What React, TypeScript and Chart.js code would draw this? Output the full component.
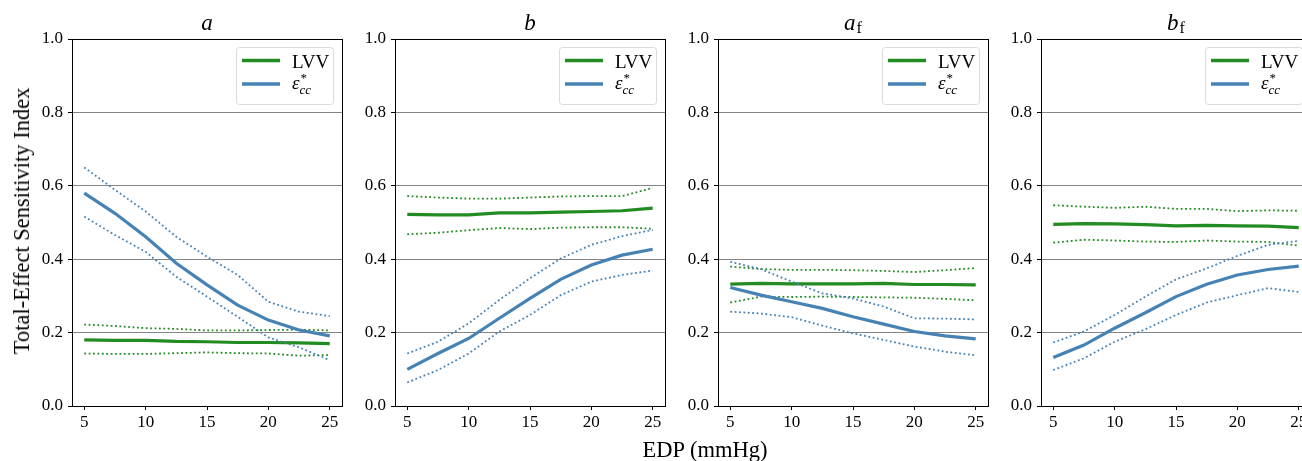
import React, { useEffect, useRef } from "react";
import { Chart, registerables } from "chart.js";

Chart.register(...registerables);

// End-diastolic pressure sample points (mmHg)
const edp = [5, 7.5, 10, 12.5, 15, 17.5, 20, 22.5, 25];
const xTickValues = [5, 10, 15, 20, 25];
const yTickValues = [0, 0.2, 0.4, 0.6, 0.8, 1.0];
const seriesNames = ["LVV", "ε*cc"];
const seriesColors = ["#228B22", "#4682B4"];

// Panel a
const aLvv = [0.18, 0.179, 0.179, 0.176, 0.175, 0.173, 0.173, 0.172, 0.17];
const aLvvHi = [0.222, 0.218, 0.212, 0.21, 0.206, 0.206, 0.207, 0.208, 0.206];
const aLvvLo = [0.143, 0.142, 0.142, 0.144, 0.146, 0.144, 0.143, 0.137, 0.139];
const aEps = [0.58, 0.525, 0.461, 0.389, 0.33, 0.275, 0.234, 0.207, 0.191];
const aEpsHi = [0.65, 0.589, 0.53, 0.461, 0.407, 0.357, 0.284, 0.257, 0.245];
const aEpsLo = [0.516, 0.466, 0.42, 0.352, 0.298, 0.243, 0.187, 0.16, 0.125];

// Panel b
const bLvv = [0.522, 0.521, 0.521, 0.526, 0.526, 0.528, 0.53, 0.532, 0.539];
const bLvvHi = [0.572, 0.568, 0.565, 0.565, 0.568, 0.571, 0.572, 0.572, 0.594];
const bLvvLo = [0.468, 0.472, 0.479, 0.485, 0.482, 0.486, 0.487, 0.487, 0.483];
const bEps = [0.1, 0.143, 0.184, 0.239, 0.293, 0.345, 0.384, 0.411, 0.427];
const bEpsHi = [0.143, 0.175, 0.225, 0.289, 0.348, 0.402, 0.439, 0.463, 0.48];
const bEpsLo = [0.064, 0.098, 0.143, 0.203, 0.248, 0.302, 0.339, 0.357, 0.369];

// Panel a_f
const afLvv = [0.332, 0.334, 0.333, 0.333, 0.333, 0.334, 0.331, 0.331, 0.33];
const afLvvHi = [0.38, 0.373, 0.371, 0.371, 0.37, 0.368, 0.365, 0.37, 0.376];
const afLvvLo = [0.282, 0.298, 0.297, 0.298, 0.297, 0.296, 0.295, 0.292, 0.288];
const afEps = [0.323, 0.302, 0.284, 0.266, 0.243, 0.223, 0.203, 0.191, 0.183];
const afEpsHi = [0.393, 0.373, 0.339, 0.307, 0.293, 0.271, 0.239, 0.238, 0.236];
const afEpsLo = [0.257, 0.252, 0.242, 0.219, 0.198, 0.18, 0.162, 0.148, 0.138];

// Panel b_f
const bfLvv = [0.495, 0.497, 0.496, 0.494, 0.491, 0.492, 0.491, 0.49, 0.486];
const bfLvvHi = [0.547, 0.543, 0.54, 0.543, 0.537, 0.537, 0.531, 0.533, 0.532];
const bfLvvLo = [0.445, 0.453, 0.451, 0.448, 0.447, 0.451, 0.448, 0.447, 0.437];
const bfEps = [0.132, 0.166, 0.212, 0.254, 0.298, 0.332, 0.357, 0.372, 0.381];
const bfEpsHi = [0.173, 0.203, 0.248, 0.298, 0.345, 0.375, 0.409, 0.439, 0.45];
const bfEpsLo = [0.098, 0.13, 0.175, 0.209, 0.248, 0.282, 0.302, 0.321, 0.311];

const panels = [
  { title: "a", sub: "", lvv: [aLvv, aLvvHi, aLvvLo], eps: [aEps, aEpsHi, aEpsLo] },
  { title: "b", sub: "", lvv: [bLvv, bLvvHi, bLvvLo], eps: [bEps, bEpsHi, bEpsLo] },
  { title: "a", sub: "f", lvv: [afLvv, afLvvHi, afLvvLo], eps: [afEps, afEpsHi, afEpsLo] },
  { title: "b", sub: "f", lvv: [bfLvv, bfLvvHi, bfLvvLo], eps: [bfEps, bfEpsHi, bfEpsLo] },
];

const FONT = "'Liberation Serif', 'DejaVu Serif', serif";
const PLOT_LEFTS = [72, 395, 718, 1041];
const PLOT_W = 270;
const AXIS_W = 72;
const PAD_R = 8;
const CANVAS_H = 440;

function toPoints(vals: number[]) {
  return vals.map((v, i) => ({ x: edp[i], y: v }));
}

function makeDecor(title: string, sub: string) {
  return {
    id: "panelDecor",
    afterDraw(chart: any) {
      const { ctx, chartArea } = chart;
      const { left, right, top, bottom } = chartArea;
      ctx.save();

      // frame
      ctx.strokeStyle = "#000";
      ctx.lineWidth = 1;
      ctx.strokeRect(Math.round(left) + 0.5, Math.round(top) + 0.5, Math.round(right - left), Math.round(bottom - top));

      // title
      ctx.fillStyle = "#000";
      ctx.textBaseline = "alphabetic";
      ctx.textAlign = "left";
      const mainFont = `italic 23px ${FONT}`;
      const subFont = `16px ${FONT}`;
      ctx.font = mainFont;
      const mw = ctx.measureText(title).width;
      ctx.font = subFont;
      const sw = sub ? ctx.measureText(sub).width + 1 : 0;
      const cx = (left + right) / 2;
      const tx = cx - (mw + sw) / 2;
      ctx.font = mainFont;
      ctx.fillText(title, tx, 30);
      if (sub) {
        ctx.font = subFont;
        ctx.fillText(sub, tx + mw + 1, 33);
      }

      // legend
      const bw = 97;
      const bh = 57;
      const bx = right - 9 - bw;
      const by = top + 8;
      ctx.beginPath();
      ctx.roundRect(bx + 0.5, by + 0.5, bw, bh, 3);
      ctx.fillStyle = "rgba(255,255,255,0.8)";
      ctx.fill();
      ctx.strokeStyle = "#dadada";
      ctx.lineWidth = 1;
      ctx.stroke();

      const rows = [by + 13.5, by + 37];
      seriesNames.forEach((name, i) => {
        const ry = rows[i];
        ctx.strokeStyle = seriesColors[i];
        ctx.lineWidth = 3.5;
        ctx.setLineDash([]);
        ctx.beginPath();
        ctx.moveTo(bx + 6, ry);
        ctx.lineTo(bx + 44, ry);
        ctx.stroke();
        ctx.fillStyle = "#000";
        const lx = bx + 56;
        if (i === 0) {
          ctx.font = `19px ${FONT}`;
          ctx.fillText(name, lx, ry + 7);
        } else {
          const base = name.charAt(0);
          const sup = name.charAt(1);
          const low = name.slice(2);
          ctx.font = `italic 19px ${FONT}`;
          ctx.fillText(base, lx, ry + 5);
          const ew = ctx.measureText(base).width;
          ctx.font = `13px ${FONT}`;
          ctx.fillText(sup, lx + ew + 1, ry - 2);
          ctx.font = `italic 13px ${FONT}`;
          ctx.fillText(low, lx + ew, ry + 10);
        }
      });
      ctx.restore();
    },
  };
}

function Panel({ index }: { index: number }) {
  const ref = useRef<HTMLCanvasElement>(null);
  const p = panels[index];
  useEffect(() => {
    const [lvv, lvvHi, lvvLo] = p.lvv;
    const [eps, epsHi, epsLo] = p.eps;
    const solid = (data: number[], color: string, order: number) => ({
      data: toPoints(data),
      borderColor: color,
      borderWidth: 3.2,
      pointRadius: 0,
      tension: 0,
      order,
    });
    const dotted = (data: number[], color: string, order: number) => ({
      data: toPoints(data),
      borderColor: color,
      borderWidth: 1.8,
      borderDash: [1.8, 2.6],
      pointRadius: 0,
      tension: 0,
      order,
    });
    const chart = new Chart(ref.current!, {
      type: "line",
      data: {
        datasets: [
          solid(eps, seriesColors[1], 0),
          dotted(epsHi, seriesColors[1], 1),
          dotted(epsLo, seriesColors[1], 1),
          solid(lvv, seriesColors[0], 2),
          dotted(lvvHi, seriesColors[0], 3),
          dotted(lvvLo, seriesColors[0], 3),
        ] as any,
      },
      options: {
        animation: false,
        responsive: false,
        maintainAspectRatio: false,
        devicePixelRatio: 1,
        events: [],
        layout: { padding: { left: 0, right: PAD_R, top: 39, bottom: 0 }, autoPadding: false } as any,
        plugins: { legend: { display: false }, tooltip: { enabled: false }, title: { display: false } },
        scales: {
          x: {
            type: "linear",
            min: 4,
            max: 26,
            afterBuildTicks: (s: any) => {
              s.ticks = xTickValues.map((v) => ({ value: v }));
            },
            afterFit: (s: any) => {
              s.height = CANVAS_H - 406;
            },
            grid: { drawOnChartArea: false, drawTicks: true, tickLength: 4, tickColor: "#000", tickWidth: 1 },
            border: { display: false },
            ticks: {
              color: "#000",
              font: { family: FONT, size: 17 },
              padding: 2,
              maxRotation: 0,
              autoSkip: false,
              callback: (v: any) => String(v),
            },
          },
          y: {
            type: "linear",
            min: 0,
            max: 1,
            afterBuildTicks: (s: any) => {
              s.ticks = yTickValues.map((v) => ({ value: v }));
            },
            afterFit: (s: any) => {
              s.width = AXIS_W;
            },
            grid: {
              color: (c: any) => (c.tick && c.tick.value > 0.01 && c.tick.value < 0.99 ? "#858585" : "rgba(0,0,0,0)"),
              lineWidth: 1,
              drawTicks: true,
              tickLength: 4,
              tickColor: "#000",
              tickWidth: 1,
            },
            border: { display: false },
            ticks: {
              color: "#000",
              font: { family: FONT, size: 17 },
              padding: 5,
              autoSkip: false,
              callback: (v: any) => Number(v).toFixed(1),
            },
          },
        },
      },
      plugins: [makeDecor(p.title, p.sub)],
    });
    return () => chart.destroy();
  }, []);
  const w = AXIS_W + PLOT_W + PAD_R;
  return (
    <canvas
      ref={ref}
      width={w}
      height={CANVAS_H}
      style={{ position: "absolute", left: PLOT_LEFTS[index] - AXIS_W, top: 0, width: w, height: CANVAS_H }}
    />
  );
}

export default function App() {
  return (
    <div
      style={{
        position: "fixed",
        left: 0,
        top: 0,
        width: 1302,
        height: 461,
        overflow: "hidden",
        background: "#fff",
      }}
    >
      {panels.map((_, i) => (
        <Panel key={i} index={i} />
      ))}
      <div
        style={{
          position: "absolute",
          left: 22,
          top: 221,
          transform: "translate(-50%, -50%) rotate(-90deg)",
          whiteSpace: "nowrap",
          fontFamily: FONT,
          fontSize: 22.5,
          color: "#000",
        }}
      >
        Total-Effect Sensitivity Index
      </div>
      <div
        style={{
          position: "absolute",
          left: 705,
          top: 450,
          transform: "translate(-50%, -50%)",
          whiteSpace: "nowrap",
          fontFamily: FONT,
          fontSize: 22.5,
          color: "#000",
        }}
      >
        EDP (mmHg)
      </div>
    </div>
  );
}
